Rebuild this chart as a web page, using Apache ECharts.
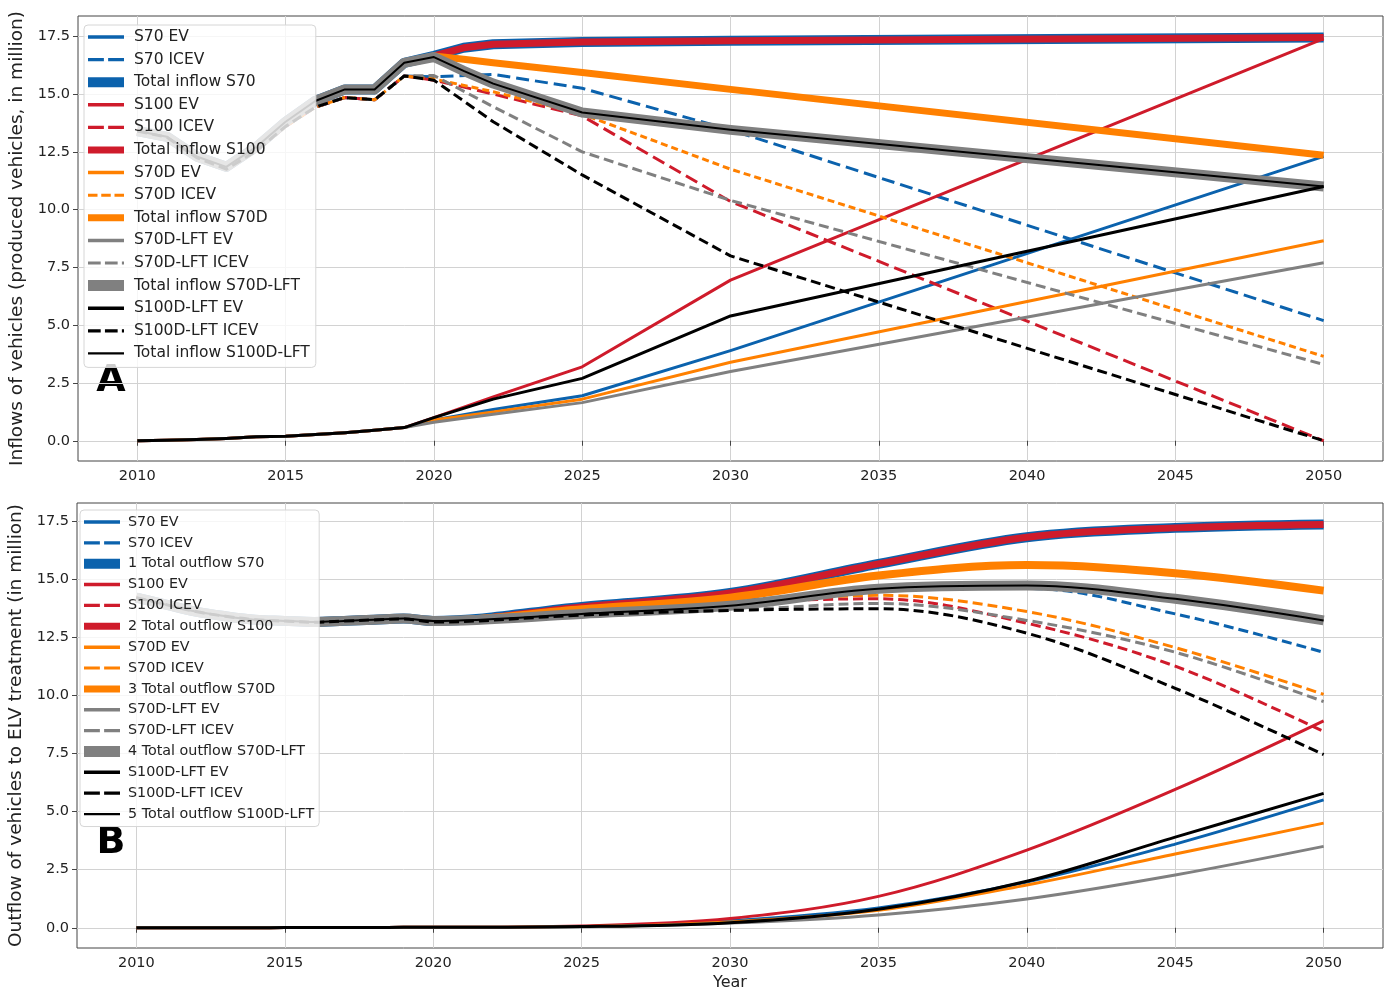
<!DOCTYPE html>
<html lang="en">
<head>
<meta charset="UTF-8">
<title>Vehicle inflows and outflows</title>
<style>
  html, body { margin: 0; padding: 0; background: #fff; }
  #myEcharts { width: 1390px; height: 992px; }
</style>
<script src="https://cdn.jsdelivr.net/npm/echarts@6/dist/echarts.min.js"></script>
</head>
<body>
<div id="myEcharts"></div>
<script>
// ---------- panel A : inflows (million vehicles) ----------
var histYears = [2010, 2011, 2012, 2013, 2014, 2015, 2016, 2017, 2018, 2019];
var inHistTotal = [13.4, 13.15, 12.3, 11.85, 12.7, 13.8, 14.7, 15.2, 15.2, 16.35];
var inHistEV = [0.0, 0.02, 0.05, 0.1, 0.17, 0.2, 0.27, 0.35, 0.45, 0.57];
var inHistICEV = [13.4, 13.13, 12.25, 11.75, 12.53, 13.6, 14.43, 14.85, 14.75, 15.78];

var inYearsTotal = [2020, 2021, 2022, 2025, 2030, 2050];
var inYearsSplit = [2020, 2022, 2025, 2030, 2050];

var inS70EV = [0.9, 1.35, 1.95, 3.9, 12.3];
var inS70ICEV = [15.75, 15.85, 15.25, 13.45, 5.2];
var inS70Total = [16.65, 17.0, 17.15, 17.25, 17.3, 17.45];
var inS100EV = [1.0, 1.9, 3.2, 6.95, 17.4];
var inS100ICEV = [15.6, 15.0, 14.05, 10.35, 0.0];
var inS100Total = [16.65, 17.0, 17.15, 17.25, 17.3, 17.45];
var inS70DEV = [0.9, 1.25, 1.8, 3.4, 8.65];
var inS70DICEV = [15.65, 15.1, 14.13, 11.75, 3.65];
var inS70DTotal = [16.65, 16.5, 16.35, 15.93, 15.2, 12.35];
var inS70DLFTEV = [0.8, 1.15, 1.65, 3.0, 7.7];
var inS70DLFTICEV = [15.8, 14.45, 12.5, 10.4, 3.3];
var inS70DLFTTotal = [16.6, 16.0, 15.45, 14.2, 13.45, 11.0];
var inS100DLFTEV = [1.0, 1.8, 2.7, 5.4, 11.0];
var inS100DLFTICEV = [15.6, 13.8, 11.5, 8.0, 0.0];
var inS100DLFTTotal = [16.6, 16.0, 15.45, 14.2, 13.45, 11.0];

// ---------- panel B : outflows to ELV treatment ----------
var outHistTotal = [14.2, 13.9, 13.6, 13.4, 13.25, 13.2, 13.15, 13.2, 13.25, 13.3];
var outHistEV = [0, 0, 0, 0, 0, 0.01, 0.01, 0.01, 0.01, 0.02];
var outHistICEV = [14.2, 13.9, 13.6, 13.4, 13.25, 13.19, 13.14, 13.19, 13.24, 13.28];

var outYears = [2020, 2025, 2030, 2035, 2040, 2045, 2050];
var outS70EV = [0.02, 0.06, 0.3, 0.85, 1.97, 3.6, 5.5];
var outS70ICEV = [13.18, 13.72, 14.05, 14.5, 14.6, 13.5, 11.85];
var outS70Total = [13.2, 13.8, 14.4, 15.65, 16.8, 17.2, 17.35];
var outS100EV = [0.02, 0.08, 0.4, 1.35, 3.34, 5.95, 8.9];
var outS100ICEV = [13.18, 13.7, 14.0, 14.15, 13.1, 11.25, 8.44];
var outS100Total = [13.2, 13.8, 14.4, 15.65, 16.8, 17.2, 17.35];
var outS70DEV = [0.02, 0.05, 0.25, 0.75, 1.84, 3.17, 4.5];
var outS70DICEV = [13.18, 13.65, 13.95, 14.3, 13.6, 12.05, 10.04];
var outS70DTotal = [13.2, 13.7, 14.2, 15.15, 15.6, 15.25, 14.5];
var outS70DLFTEV = [0.02, 0.04, 0.2, 0.55, 1.24, 2.27, 3.5];
var outS70DLFTICEV = [13.18, 13.45, 13.65, 13.95, 13.22, 11.85, 9.73];
var outS70DLFTTotal = [13.2, 13.5, 13.85, 14.58, 14.72, 14.15, 13.22];
var outS100DLFTEV = [0.02, 0.05, 0.22, 0.8, 2.0, 3.9, 5.78];
var outS100DLFTICEV = [13.15, 13.45, 13.65, 13.72, 12.67, 10.3, 7.45];
var outS100DLFTTotal = [13.2, 13.5, 13.85, 14.58, 14.72, 14.15, 13.22];

var tickYears = [2010, 2015, 2020, 2025, 2030, 2035, 2040, 2045, 2050];
var tickValues = [0, 2.5, 5, 7.5, 10, 12.5, 15, 17.5];

var blue = '#0b62ad', red = '#cf1b2b', orange = '#ff8000', grey = '#808080', black = '#000000';
var font = 'DejaVu Sans';

// legend icons (drawn 36px wide)
var icSolid = 'path://M0,0H36V3.5H0Z';
var icLong = 'path://M0,0H15V3H0Z M19,0H34V3H19Z';
var icShort = 'path://M0,0H9.5V3H0Z M13.25,0H22.75V3H13.25Z M26.5,0H36V3H26.5Z';
var icMid = 'path://M0,0H12V3H0Z M16,0H28V3H16Z M32,0H34V3H32Z';
function icBar(h) { return 'path://M0,0H36V' + h + 'H0Z'; }

function pairs(xs, ys) {
  return xs.map(function (x, i) { return [x, ys[i]]; });
}

// name, colour, width, dash, legend icon, years, values, history
var inflowRows = [
  ['S70 EV', blue, 3, null, icSolid, inYearsSplit, inS70EV, inHistEV],
  ['S70 ICEV', blue, 3, [13, 6], icLong, inYearsSplit, inS70ICEV, inHistICEV],
  ['Total inflow S70', blue, 10, null, icBar(10), inYearsTotal, inS70Total, inHistTotal],
  ['S100 EV', red, 3, null, icSolid, inYearsSplit, inS100EV, inHistEV],
  ['S100 ICEV', red, 3, [13, 6], icLong, inYearsSplit, inS100ICEV, inHistICEV],
  ['Total inflow S100', red, 7, null, icBar(7), inYearsTotal, inS100Total, inHistTotal],
  ['S70D EV', orange, 3, null, icSolid, inYearsSplit, inS70DEV, inHistEV],
  ['S70D ICEV', orange, 3, [7, 4], icShort, inYearsSplit, inS70DICEV, inHistICEV],
  ['Total inflow S70D', orange, 7, null, icBar(7), inYearsTotal, inS70DTotal, inHistTotal],
  ['S70D-LFT EV', grey, 3, null, icSolid, inYearsSplit, inS70DLFTEV, inHistEV],
  ['S70D-LFT ICEV', grey, 3, [10, 5], icMid, inYearsSplit, inS70DLFTICEV, inHistICEV],
  ['Total inflow S70D-LFT', grey, 10, null, icBar(11), inYearsTotal, inS70DLFTTotal, inHistTotal],
  ['S100D-LFT EV', black, 3, null, icSolid, inYearsSplit, inS100DLFTEV, inHistEV],
  ['S100D-LFT ICEV', black, 3, [10, 5], icMid, inYearsSplit, inS100DLFTICEV, inHistICEV],
  ['Total inflow S100D-LFT', black, 2, null, icBar(2.2), inYearsTotal, inS100DLFTTotal, inHistTotal]
];

var outflowRows = [
  ['S70 EV', blue, 3, null, icSolid, outYears, outS70EV, outHistEV],
  ['S70 ICEV', blue, 3, [10, 5], icLong, outYears, outS70ICEV, outHistICEV],
  ['1 Total outflow S70', blue, 10, null, icBar(10), outYears, outS70Total, outHistTotal],
  ['S100 EV', red, 3, null, icSolid, outYears, outS100EV, outHistEV],
  ['S100 ICEV', red, 3, [10, 5], icLong, outYears, outS100ICEV, outHistICEV],
  ['2 Total outflow S100', red, 7, null, icBar(7), outYears, outS100Total, outHistTotal],
  ['S70D EV', orange, 3, null, icSolid, outYears, outS70DEV, outHistEV],
  ['S70D ICEV', orange, 3, [10, 5], icLong, outYears, outS70DICEV, outHistICEV],
  ['3 Total outflow S70D', orange, 8, null, icBar(7), outYears, outS70DTotal, outHistTotal],
  ['S70D-LFT EV', grey, 3, null, icSolid, outYears, outS70DLFTEV, outHistEV],
  ['S70D-LFT ICEV', grey, 3, [10, 5], icLong, outYears, outS70DLFTICEV, outHistICEV],
  ['4 Total outflow S70D-LFT', grey, 10, null, icBar(11), outYears, outS70DLFTTotal, outHistTotal],
  ['S100D-LFT EV', black, 3, null, icSolid, outYears, outS100DLFTEV, outHistEV],
  ['S100D-LFT ICEV', black, 3, [10, 5], icLong, outYears, outS100DLFTICEV, outHistICEV],
  ['5 Total outflow S100D-LFT', black, 2, null, icBar(2.2), outYears, outS100DLFTTotal, outHistTotal]
];

function makeSeries(row, idx, smooth) {
  return {
    type: 'line',
    name: row[0],
    xAxisIndex: idx,
    yAxisIndex: idx,
    data: pairs(histYears, row[7]).concat(pairs(row[5], row[6])),
    symbol: 'none',
    showSymbol: false,
    smooth: smooth,
    color: row[1],
    lineStyle: { color: row[1], width: row[2], type: row[3] || 'solid', cap: 'butt', join: 'round' },
    emphasis: { disabled: true },
    silent: true
  };
}

// legend text sits 5px after the icon; extra room comes from the text padding
function legendFor(rows, left, top, fontSize, lineHeight, gap, textShift, pad) {
  return {
    orient: 'vertical',
    left: left,
    top: top,
    data: rows.map(function (r) { return { name: r[0], icon: r[4] }; }),
    itemWidth: 36,
    itemHeight: 11,
    itemGap: gap,
    symbolKeepAspect: true,
    selectedMode: false,
    padding: pad,
    backgroundColor: 'rgba(255,255,255,0.8)',
    borderColor: '#d6d6d6',
    borderWidth: 1,
    borderRadius: 4,
    itemStyle: { borderWidth: 0 },
    textStyle: { fontFamily: font, fontSize: fontSize, lineHeight: lineHeight, color: '#222',
      padding: [0, 0, 0, textShift] }
  };
}

function xAxisFor(idx, name) {
  return {
    type: 'value', gridIndex: idx, min: 2008, max: 2052,
    axisLine: { show: false },
    axisTick: { show: true, length: 5, lineStyle: { color: '#444' }, customValues: tickYears },
    axisLabel: { customValues: tickYears, margin: 8, fontFamily: font, fontSize: 14.5, color: '#222',
      formatter: function (v) { return String(v); } },
    splitLine: { show: true, lineStyle: { color: '#d2d2d2', width: 1 } },
    name: name, nameLocation: 'middle', nameGap: 27,
    nameTextStyle: { fontFamily: font, fontSize: 16, color: '#222' }
  };
}

function yAxisFor(idx, min, max, name) {
  return {
    type: 'value', gridIndex: idx, min: min, max: max,
    axisLine: { show: false },
    axisTick: { show: true, length: 5, lineStyle: { color: '#444' }, customValues: tickValues },
    axisLabel: { customValues: tickValues, margin: 8, fontFamily: font, fontSize: 14.5, color: '#222',
      formatter: function (v) { return v.toFixed(1); } },
    splitLine: { show: true, lineStyle: { color: '#d2d2d2', width: 1 } },
    name: name, nameLocation: 'middle', nameRotate: 90, nameGap: 46,
    nameTextStyle: { fontFamily: font, fontSize: 18.5, color: '#222' }
  };
}

var myChart = echarts.init(document.getElementById('myEcharts'), null, { renderer: 'canvas' });

var option = {
  animation: false,
  backgroundColor: '#ffffff',
  grid: [
    { left: 78, top: 16, width: 1305, height: 445, show: true, borderColor: '#444', borderWidth: 1,
      backgroundColor: 'transparent', containLabel: false, outerBoundsMode: 'none' },
    { left: 77, top: 503, width: 1306, height: 445, show: true, borderColor: '#444', borderWidth: 1,
      backgroundColor: 'transparent', containLabel: false, outerBoundsMode: 'none' }
  ],
  xAxis: [xAxisFor(0, ''), xAxisFor(1, 'Year')],
  yAxis: [
    yAxisFor(0, -0.875, 18.375, 'Inflows of vehicles (produced vehicles, in million)'),
    yAxisFor(1, -0.87, 18.27, 'Outflow of vehicles to ELV treatment (in million)')
  ],
  legend: [
    legendFor(inflowRows, 84, 25, 15.5, 16, 6.6, 5, [4, 6, 6, 4]),
    legendFor(outflowRows, 80, 510, 14.3, 15, 5.86, 3, [4.5, 5, 5, 4])
  ],
  graphic: [
    { type: 'text', x: 111, y: 381, silent: true,
      style: { text: 'A', font: 'bold 38px "DejaVu Sans"', fill: '#000', align: 'center', verticalAlign: 'middle' } },
    { type: 'text', x: 111, y: 843, silent: true,
      style: { text: 'B', font: 'bold 38px "DejaVu Sans"', fill: '#000', align: 'center', verticalAlign: 'middle' } }
  ],
  series: inflowRows.map(function (r) { return makeSeries(r, 0, false); })
    .concat(outflowRows.map(function (r) { return makeSeries(r, 1, 0.35); }))
};

myChart.setOption(option);
</script>
</body>
</html>
